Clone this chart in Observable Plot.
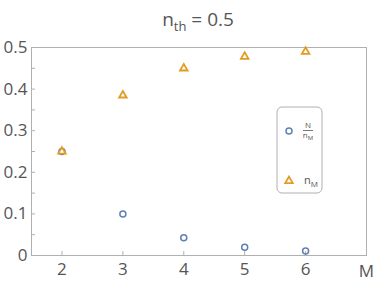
<!DOCTYPE html>
<html>
<head>
<meta charset="utf-8">
<script src="https://cdn.jsdelivr.net/npm/d3@7"></script>
<script src="https://cdn.jsdelivr.net/npm/@observablehq/plot@0.6"></script>
<style>
  html, body { margin: 0; padding: 0; background: #fff; }
  #chart svg { display: block; }
</style>
</head>
<body>
<div id="chart"></div>
<script>
const M = [2, 3, 4, 5, 6];
const ratioValues = [0.25, 0.100, 0.0425, 0.020, 0.011];  // N / n_M
const nMValues = [0.25, 0.385, 0.450, 0.478, 0.490];      // n_M
const xTicks = [2, 3, 4, 5, 6];
const yTicks = [0, 0.1, 0.2, 0.3, 0.4, 0.5];
const yMinorTicks = [0.05, 0.15, 0.25, 0.35, 0.45];

const blue = "#5e81b5";
const orange = "#e19c24";
const textColor = "#555";
const frameColor = "#b0b0b0";
const font = "Open Sans, Lato, sans-serif";

const ratioData = M.map((m, i) => ({M: m, v: ratioValues[i]}));
const nMData = M.map((m, i) => ({M: m, v: nMValues[i]}));
const xDomain = [1.5, 7];

const plot = Plot.plot({
  width: 374,
  height: 287,
  marginLeft: 31,
  marginRight: 8,
  marginTop: 47,
  marginBottom: 32,
  style: {fontFamily: font, fontSize: "17px", color: textColor, background: "#fff"},
  x: {domain: xDomain},
  y: {domain: [0, 0.5]},
  marks: [
    Plot.frame({stroke: frameColor, strokeWidth: 1}),
    Plot.ruleY(yTicks.concat(yMinorTicks), {y: d => d, x1: xDomain[0], x2: xDomain[0] + 0.066, stroke: frameColor}),
    Plot.ruleX(xTicks, {x: d => d, y1: 0, y2: 0.0095, stroke: frameColor}),
    Plot.axisY({ticks: yTicks, tickSize: 0, tickPadding: 4, tickFormat: d => d === 0 ? "0" : String(d), label: null, fill: textColor}),
    Plot.axisX({ticks: xTicks, tickSize: 0, tickPadding: 7, tickFormat: d => String(d), label: null, fill: textColor}),
    Plot.text(["M"], {frameAnchor: "bottom-right", dy: 16, textAnchor: "middle", lineAnchor: "middle", fill: textColor, fontSize: 17}),
    Plot.dot(ratioData, {x: "M", y: "v", symbol: "circle", r: 3, stroke: blue, strokeWidth: 1.5, fill: "none"}),
    Plot.dot(nMData, {x: "M", y: "v", symbol: "triangle", r: 2.8, stroke: orange, strokeWidth: 1.8, fill: "none"})
  ]
});

const svg = d3.select(plot);

// Title n_th = 0.5
const title = svg.append("text")
  .attr("x", 198).attr("y", 26)
  .attr("text-anchor", "middle")
  .attr("fill", textColor)
  .style("font-family", font)
  .style("font-size", "19px");
title.append("tspan").text("n");
title.append("tspan").attr("dy", 5).style("font-size", "13px").text("th");
title.append("tspan").attr("dy", -5).text(" = 0.5");

// Legend
const lg = svg.append("g").style("font-family", font).attr("fill", textColor);
lg.append("rect").attr("x", 277).attr("y", 107).attr("width", 45).attr("height", 86)
  .attr("rx", 5).attr("fill", "#fff").attr("stroke", frameColor);
lg.append("circle").attr("cx", 289).attr("cy", 131).attr("r", 3)
  .attr("fill", "none").attr("stroke", blue).attr("stroke-width", 1.5);
lg.append("text").attr("x", 308).attr("y", 128).attr("text-anchor", "middle")
  .style("font-size", "8px").text("N");
lg.append("line").attr("x1", 303).attr("x2", 313).attr("y1", 130.5).attr("y2", 130.5)
  .attr("stroke", textColor).attr("stroke-width", 0.8);
const den = lg.append("text").attr("x", 308).attr("y", 138).attr("text-anchor", "middle")
  .style("font-size", "8px");
den.append("tspan").text("n");
den.append("tspan").attr("dy", 2).style("font-size", "6px").text("M");
lg.append("path").attr("transform", "translate(289,181)")
  .attr("d", d3.symbol(d3.symbolTriangle, Math.PI * 7.8)())
  .attr("fill", "none").attr("stroke", orange).attr("stroke-width", 1.8);
const nm = lg.append("text").attr("x", 311).attr("y", 184)
  .style("font-size", "11px");
nm.append("tspan").text("n");
nm.append("tspan").attr("dy", 3).style("font-size", "8px").text("M");

document.getElementById("chart").appendChild(plot);
</script>
</body>
</html>
